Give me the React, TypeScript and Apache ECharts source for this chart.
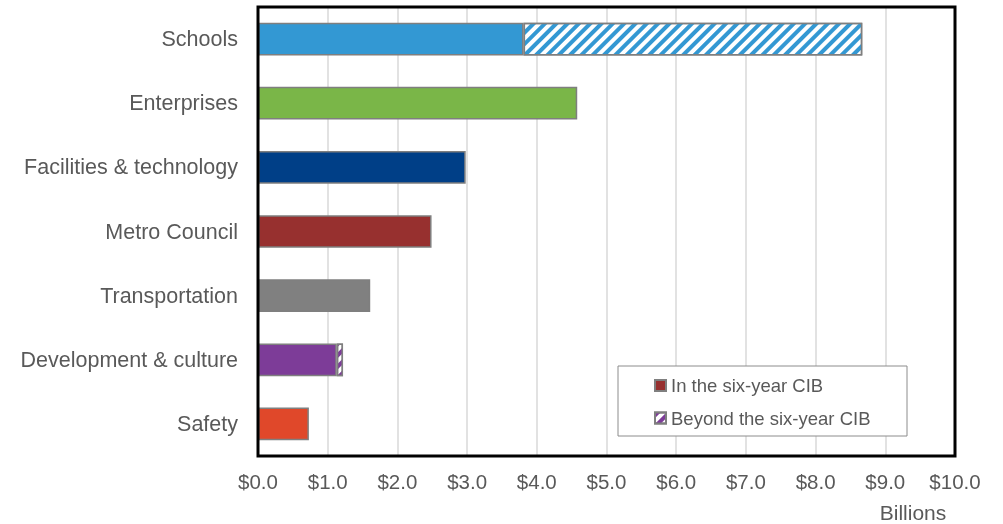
import React, { useEffect, useRef } from "react";
import * as echarts from "echarts";

const categories = [
  "Schools",
  "Enterprises",
  "Facilities & technology",
  "Metro Council",
  "Transportation",
  "Development & culture",
  "Safety",
];
const inCIB = [3.81, 4.58, 2.98, 2.49, 1.61, 1.13, 0.73];
const beyondCIB = [4.86, 0, 0, 0, 0, 0.09, 0];
const barColors = ["#3398D3", "#7AB648", "#003F87", "#97302F", "#808080", "#7D3C98", "#E0482A"];
const xTicks = [0, 1, 2, 3, 4, 5, 6, 7, 8, 9, 10];

const FONT = "Liberation Sans";
const TEXT = "#595959";

export default function App() {
  const ref = useRef<HTMLDivElement>(null);
  useEffect(() => {
    const chart = echarts.init(ref.current!, undefined, { renderer: "svg" });
    const hatch = (c: string) => ({
      symbol: "rect",
      symbolSize: 1,
      color: c,
      backgroundColor: "#ffffff",
      dashArrayX: [1, 0],
      dashArrayY: [3.5, 4],
      rotation: -Math.PI / 4,
    });
    chart.setOption({
      animation: false,
      grid: {
        left: 258,
        right: 48,
        top: 7,
        bottom: 68,
        show: false,
        containLabel: false,
      },
      xAxis: {
        type: "value",
        min: xTicks[0],
        max: xTicks[xTicks.length - 1],
        interval: 1,
        axisLine: { show: false },
        axisTick: { show: false },
        splitLine: { lineStyle: { color: "#d9d9d9", width: 1.5 } },
        axisLabel: {
          formatter: (v: number) => "$" + v.toFixed(1),
          color: TEXT,
          fontFamily: FONT,
          fontSize: 20.5,
          margin: 15,
        },
      },
      yAxis: {
        type: "category",
        data: categories,
        inverse: true,
        axisLine: { show: false },
        axisTick: { show: false },
        axisLabel: {
          color: TEXT,
          fontFamily: FONT,
          fontSize: 21.5,
          margin: 20,
        },
      },
      legend: {
        orient: "vertical",
        left: 649,
        top: 371,
        itemGap: 13.5,
        itemWidth: 11,
        itemHeight: 11,
        icon: "rect",
        textStyle: { color: TEXT, fontFamily: FONT, fontSize: 18.5, padding: [0, 0, 0, 0] },
        data: ["In the six-year CIB", "Beyond the six-year CIB"],
      },
      graphic: [
        {
          type: "rect",
          shape: { x: 618, y: 366, width: 289, height: 70 },
          style: { fill: "#fff", stroke: "#8c8c8c", lineWidth: 1 },
          z: 1,
          silent: true,
        },
        {
          type: "rect",
          shape: { x: 258, y: 7, width: 697, height: 449 },
          style: { fill: "none", stroke: "#000", lineWidth: 3 },
          z: 100,
          silent: true,
        },
        {
          type: "text",
          x: 913,
          y: 512,
          style: {
            text: "Billions",
            fill: TEXT,
            font: `21px ${FONT}`,
            align: "center",
            verticalAlign: "middle",
          },
        },
      ],
      series: [
        {
          name: "In the six-year CIB",
          type: "bar",
          stack: "total",
          barWidth: "51%",
          itemStyle: { color: "#97302F", borderColor: "#7f7f7f", borderWidth: 1.5 },
          data: inCIB.map((v, i) => ({ value: v, itemStyle: { color: barColors[i] } })),
        },
        {
          name: "Beyond the six-year CIB",
          type: "bar",
          stack: "total",
          barWidth: "51%",
          itemStyle: {
            color: "#ffffff",
            borderColor: "#7f7f7f",
            borderWidth: 1.5,
            decal: hatch("#7D3C98"),
          },
          data: beyondCIB.map((v, i) =>
            v > 0
              ? { value: v, itemStyle: { decal: hatch(barColors[i]) } }
              : { value: "-" }
          ),
        },
      ],
    });
    return () => chart.dispose();
  }, []);
  return (
    <div
      ref={ref}
      style={{ position: "fixed", left: 0, top: 0, width: 1003, height: 524 }}
    />
  );
}
